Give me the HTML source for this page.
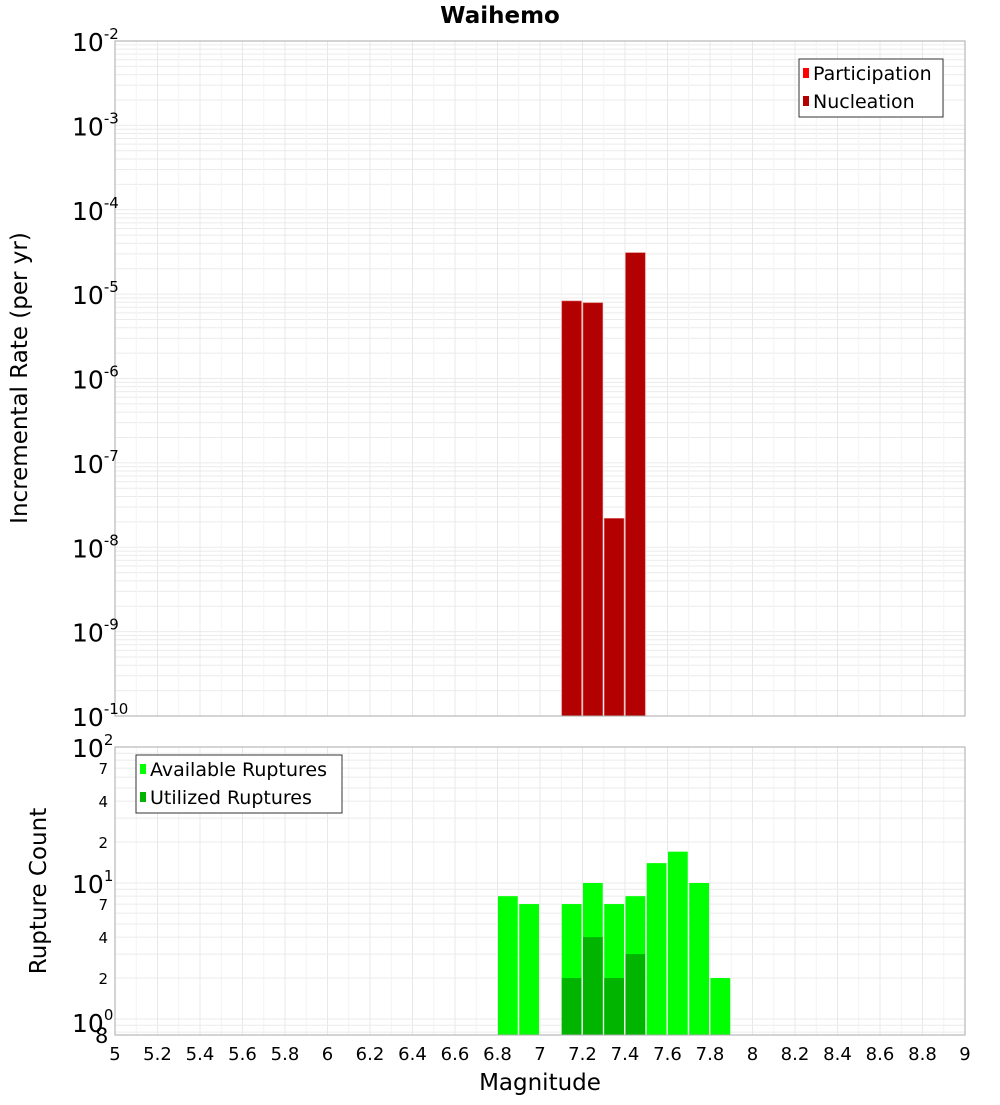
<!DOCTYPE html>
<html><head><meta charset="utf-8"><style>
body{margin:0;background:#fff;font-family:"Liberation Sans","DejaVu Sans",sans-serif}
</style></head><body>
<svg id="c" width="1000" height="1100" xmlns="http://www.w3.org/2000/svg" font-family="DejaVu Sans, Liberation Sans, sans-serif">
<text x="500" y="23" text-anchor="middle" font-size="23" font-weight="bold">Waihemo</text>
<g id="top"></g><g id="bot"></g>
<text transform="translate(27,378) rotate(-90)" text-anchor="middle" font-size="23">Incremental Rate (per yr)</text>
<text transform="translate(46,891) rotate(-90)" text-anchor="middle" font-size="23">Rupture Count</text>
<text x="540" y="1090" text-anchor="middle" font-size="23">Magnitude</text>
</svg>
<script>
const bins=[7.1,7.2,7.3,7.4];
const nucleation=[8.3e-6,7.9e-6,2.2e-8,3.1e-5];
const cntBins=[6.8,6.9,7.1,7.2,7.3,7.4,7.5,7.6,7.7,7.8];
const available=[8,7,7,10,7,8,14,17,10,2];
const utilBins=[7.1,7.2,7.3,7.4];
const utilized=[2,4,2,3];
const xTicks=[5,5.2,5.4,5.6,5.8,6,6.2,6.4,6.6,6.8,7,7.2,7.4,7.6,7.8,8,8.2,8.4,8.6,8.8,9];
const topExp=[-2,-3,-4,-5,-6,-7,-8,-9,-10];
const botTicks=[2,4,7,20,40,70];

const NS="http://www.w3.org/2000/svg";
const L=115,R=965;
const X=m=>L+(m-5)/4*(R-L);
const T0=41,T1=716;
const YT=v=>T0+(-2-Math.log10(v))*(T1-T0)/8;
const B0=747,B1=1035;
const YB=v=>883+(1-Math.log10(v))*136;
function mk(p,tag,a,txt){const e=document.createElementNS(NS,tag);for(const k in a)e.setAttribute(k,a[k]);if(txt!==undefined)e.textContent=txt;p.appendChild(e);return e;}
const gTop=document.getElementById('top'),gBot=document.getElementById('bot');

for(let e=-10;e<-2;e++)for(let k=1;k<10;k++){const y=YT(k*Math.pow(10,e));
 const g=mk(gTop,'line',{x1:L,x2:R,y1:y,y2:y,stroke:'#ebebeb','stroke-width':1});
 
 }
for(let i=0;i<=40;i++){const x=X(5+i*0.1);
 const g=mk(gTop,'line',{x1:x,x2:x,y1:T0,y2:T1,stroke:i%2?'#f4f4f4':'#e8e8e8'});
 
 
 const g2=mk(gBot,'line',{x1:x,x2:x,y1:B0,y2:B1,stroke:i%2?'#f4f4f4':'#e8e8e8'});
 
 }
for(let e=-1;e<2;e++)for(let k=1;k<10;k++){const y=YB(k*Math.pow(10,e));if(y<B0||y>B1)continue;
 const g=mk(gBot,'line',{x1:L,x2:R,y1:y,y2:y,stroke:'#ebebeb'});
 
 }

bins.forEach((m,i)=>{const y=YT(nucleation[i]);
 const r=mk(gTop,'rect',{x:X(m)+0.5,y:y,width:X(m+0.1)-X(m)-1.5,height:T1-y,fill:'#b30000',stroke:'#e07070','stroke-width':0.6});
 
 });
mk(gTop,'rect',{x:L,y:T0,width:R-L,height:T1-T0,fill:'none',stroke:'#aaa'});
topExp.forEach(e=>{const y=YT(Math.pow(10,e));
 const t=mk(gTop,'text',{x:72,y:y+10,'font-size':25},'10');
 
 
 mk(t,'tspan',{dy:-12,'font-size':15},String(e));});

const lg=mk(gTop,'g',{});
mk(lg,'rect',{x:799,y:59,width:144,height:58,fill:'#fff',stroke:'#333'});
mk(lg,'rect',{x:803,y:68,width:6,height:10,fill:'#ff0000'});
mk(lg,'text',{x:813,y:80,'font-size':19},'Participation');
mk(lg,'rect',{x:803,y:96,width:6,height:10,fill:'#b30000'});
mk(lg,'text',{x:813,y:108,'font-size':19},'Nucleation');

cntBins.forEach((m,i)=>{const y=YB(available[i]);
 const r=mk(gBot,'rect',{x:X(m)+0.5,y:y,width:X(m+0.1)-X(m)-1.5,height:B1-y,fill:'#00ff00'});
 
 });
utilBins.forEach((m,i)=>{const y=YB(utilized[i]);
 const r=mk(gBot,'rect',{x:X(m)+0.5,y:y,width:X(m+0.1)-X(m)-1.5,height:B1-y,fill:'#00b400'});
 
 });
mk(gBot,'rect',{x:L,y:B0,width:R-L,height:B1-B0,fill:'none',stroke:'#aaa'});
botTicks.forEach(v=>{const t=mk(gBot,'text',{x:108,y:YB(v)+6,'font-size':15,'text-anchor':'end'},String(v>=10?v/10:v));
 
 });
[[2,747],[1,883],[0,1022]].forEach(([e,y])=>{const t=mk(gBot,'text',{x:72,y:y+10,'font-size':25},'10');
 
 
 mk(t,'tspan',{dy:-12,'font-size':15},String(e));});
mk(gBot,'text',{x:95,y:1043,'font-size':21},'8');
xTicks.forEach(v=>{const t=mk(gBot,'text',{x:X(v),y:1060,'font-size':18,'text-anchor':'middle'},String(v));
 
 });
const lb=mk(gBot,'g',{});
mk(lb,'rect',{x:136,y:755,width:206,height:58,fill:'#fff',stroke:'#333'});
mk(lb,'rect',{x:140,y:764,width:6,height:10,fill:'#00ff00'});
mk(lb,'text',{x:150,y:776,'font-size':19},'Available Ruptures');
mk(lb,'rect',{x:140,y:792,width:6,height:10,fill:'#00b400'});
mk(lb,'text',{x:150,y:804,'font-size':19},'Utilized Ruptures');
</script>
</body></html>
